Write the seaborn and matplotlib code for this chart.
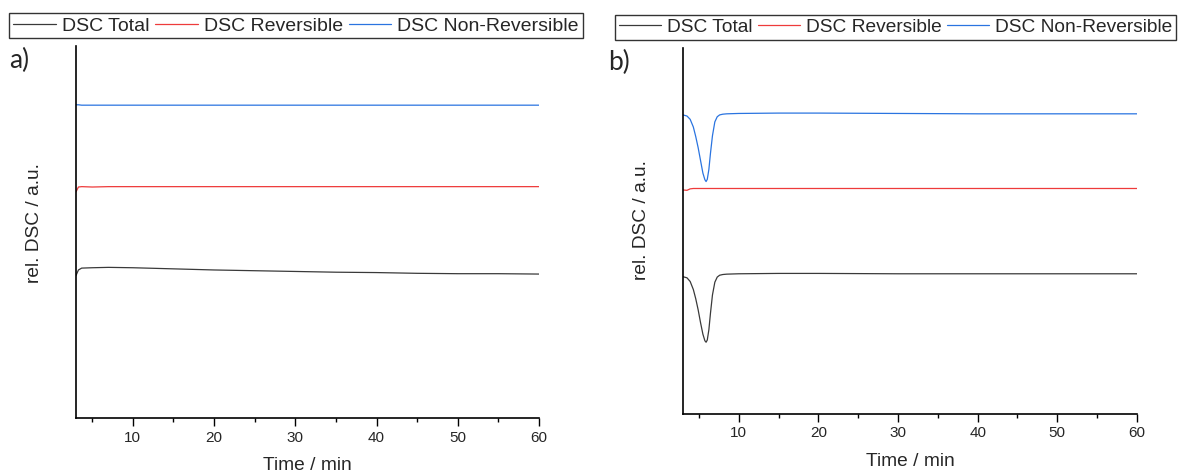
import numpy as np
import pandas as pd
import matplotlib
matplotlib.use("Agg")
import matplotlib.pyplot as plt
from matplotlib.lines import Line2D
from matplotlib.ticker import MultipleLocator
import seaborn as sns

sns.set_theme(style="white")
plt.rcParams['font.family'] = ['Liberation Sans', 'DejaVu Sans']

# ---- data (relative DSC signal, arbitrary units) ----
series_names = ["DSC Total", "DSC Reversible", "DSC Non-Reversible"]
colors = ["#3a3a3a", "#ee3b3b", "#2a74e0"]

# panel a)
time_a = [3.0, 3.3, 3.7, 5, 7, 10, 15, 20, 25, 30, 35, 40, 45, 50, 55, 60]
total_a = [0.383, 0.398, 0.403, 0.404, 0.405, 0.404, 0.401, 0.398, 0.396, 0.394, 0.392, 0.391, 0.389, 0.388, 0.388, 0.387]
rev_a = [0.608, 0.621, 0.622, 0.621, 0.622, 0.622, 0.622, 0.622, 0.622, 0.622, 0.622, 0.622, 0.622, 0.622, 0.622, 0.622]
nonrev_a = [0.842, 0.842, 0.841, 0.841, 0.841, 0.841, 0.841, 0.841, 0.841, 0.841, 0.841, 0.841, 0.841, 0.841, 0.841, 0.841]

# panel b)
time_b = [3.0, 3.5, 3.9, 4.3, 4.6, 4.9, 5.2, 5.5, 5.75, 5.9, 6.05, 6.25, 6.45, 6.7, 7.0, 7.3, 7.6, 8.0, 8.5, 10, 15, 20, 30, 40, 50, 60]
total_b = [0.375, 0.372, 0.362, 0.340, 0.315, 0.285, 0.250, 0.218, 0.200, 0.196, 0.202, 0.230, 0.275, 0.325, 0.360, 0.374, 0.379, 0.381, 0.382, 0.383, 0.384, 0.384, 0.383, 0.383, 0.383, 0.383]
rev_b = [0.612, 0.611, 0.615, 0.616, 0.616, 0.616, 0.616, 0.616, 0.616, 0.616, 0.616, 0.616, 0.616, 0.616, 0.616, 0.616, 0.616, 0.616, 0.616, 0.616, 0.616, 0.616, 0.616, 0.616, 0.616, 0.616]
nonrev_b = [0.817, 0.814, 0.805, 0.784, 0.758, 0.728, 0.693, 0.658, 0.640, 0.635, 0.641, 0.668, 0.712, 0.760, 0.798, 0.812, 0.817, 0.819, 0.820, 0.821, 0.822, 0.822, 0.821, 0.820, 0.820, 0.820]

x_ticks = [10, 20, 30, 40, 50, 60]


def long_df(t, cols):
    frames = []
    for name, vals in zip(series_names, cols):
        frames.append(pd.DataFrame({"Time": t, "DSC": vals, "Series": name}))
    return pd.concat(frames, ignore_index=True)


df_a = long_df(time_a, [total_a, rev_a, nonrev_a])
df_b = long_df(time_b, [total_b, rev_b, nonrev_b])

fig = plt.figure(figsize=(11.8, 4.76), dpi=100)
ax_a = fig.add_axes([0.0644, 0.1218, 0.3924, 0.7815])
ax_b = fig.add_axes([0.5788, 0.1303, 0.3847, 0.7690])

palette = dict(zip(series_names, colors))

for ax, df, lab, lblxy, ylab_x, ylab_y in [
    (ax_a, df_a, "a)", (0.0165, 0.873), -0.071, 0.524),
    (ax_b, df_b, "b)", (0.5245, 0.868), -0.073, 0.53),
]:
    sns.lineplot(data=df, x="Time", y="DSC", hue="Series", palette=palette,
                 hue_order=series_names, ax=ax, linewidth=0.9, legend=False,
                 sort=False, estimator=None)
    ax.set_xlim(3, 60)
    ax.set_ylim(0, 1)
    ax.set_yticks([])
    ax.xaxis.set_major_locator(MultipleLocator(10))
    ax.xaxis.set_minor_locator(MultipleLocator(5))
    ax.set_xticks(x_ticks)
    ax.tick_params(axis="x", which="major", direction="out", length=6, width=1,
                   color="black", labelsize=11, pad=3, bottom=True)
    ax.tick_params(axis="x", which="minor", direction="out", length=3, width=1,
                   color="black", bottom=True)
    for s in ["top", "right"]:
        ax.spines[s].set_visible(False)
    for s in ["left", "bottom"]:
        ax.spines[s].set_color("black")
        ax.spines[s].set_linewidth(1.2)
    ax.set_xlabel("Time / min", fontsize=13.8, labelpad=9)
    ax.set_ylabel("rel. DSC / a.u.", fontsize=13.8)
    ax.yaxis.set_label_coords(ylab_x, ylab_y)
    fig.text(lblxy[0], lblxy[1], lab, fontsize=19, family=["Lato", "DejaVu Sans"],
             ha="center", va="center")

handles = [Line2D([0], [0], color=c, lw=0.9) for c in colors]
for center, fs in [((0.2508, 0.946), 14), ((0.7589, 0.943), 13.8)]:
    fig.legend(handles, series_names, loc="center", bbox_to_anchor=center, ncol=3,
               fontsize=fs, frameon=True, fancybox=False, edgecolor="black",
               handlelength=2.2, handletextpad=0.3, columnspacing=0.3,
               borderpad=0.2, borderaxespad=0)

for lg in fig.legends:
    lg.get_frame().set_linewidth(1.0)

fig.savefig("out.png", dpi=100, facecolor="white")
